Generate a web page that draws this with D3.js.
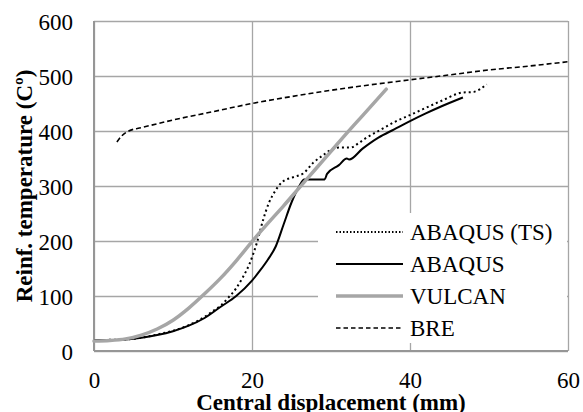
<!DOCTYPE html>
<html>
<head>
<meta charset="utf-8">
<script src="https://cdn.jsdelivr.net/npm/d3@7"></script>
<style>
html,body{margin:0;padding:0;background:#fff;}
svg{display:block;}
svg text{font-family:"Liberation Serif","Times New Roman",Times,serif;fill:#000;}
</style>
</head>
<body>
<svg id="chart" width="583" height="412"></svg>
<script>
// ---- data ----
const xTicks = [0, 20, 40, 60];
const yTicks = [0, 100, 200, 300, 400, 500, 600];
const seriesNames = ["ABAQUS (TS)", "ABAQUS", "VULCAN", "BRE"];

const abaqusTS = [[0,20],[4,21],[8,30],[12,47],[14,62],[15,72],[16,82],[17,97],[18,114],[18.8,133],[19.7,159],[20.6,196],[21.4,238],[22.1,268],[22.9,290],[23.8,307],[25.2,316],[26.5,323],[27.8,343],[29,356],[30,366],[31,370],[32.5,370],[33.5,378],[34.3,386],[36,400],[38,416],[40,429],[42,442],[44,455],[46.7,470],[48,471],[49.7,485]];
const abaqus = [[0,20],[2,20],[4,21],[6,24],[8,29],[10,36],[12,46],[14,60],[16,80],[18,100],[20,128],[21,146],[22,166],[23,190],[24,230],[25,270],[26,300],[26.6,312],[29.2,312],[29.5,322],[31,338],[32,350],[32.3,348],[34,368],[36,388],[38,403],[40,418],[42,432],[44,445],[46.7,461]];
const vulcan = [[0,18],[2,19],[4,22],[6,29],[8,40],[10,56],[12,78],[14,104],[16,132],[18,164],[20,199],[22,232],[24,264],[26,297],[28,330],[30,363],[32,396],[34,428],[37,476]];
const bre = [[2.9,380],[3.5,391],[4.4,400],[6,406],[10,420],[15,435],[20,450],[26,465],[30,474],[35,484],[40,493],[45,502],[50,511],[55,518],[60,526]];

// ---- layout ----
const svg = d3.select("#chart");
const m = {left: 94, right: 568, top: 21, bottom: 351};
const x = d3.scaleLinear().domain([0, 60]).range([m.left, m.right]);
const y = d3.scaleLinear().domain([0, 600]).range([m.bottom, m.top]);
const gridCol = "#a6a6a6";
const FS = 23;
const FONT = "'Liberation Serif', 'Times New Roman', Times, serif";

// gridlines
const gx = svg.append("g")
  .attr("transform", `translate(0,${m.bottom})`)
  .call(d3.axisBottom(x).tickValues(xTicks).tickSize(-(m.bottom - m.top)).tickFormat(""));
gx.select(".domain").remove();
gx.selectAll("line").attr("stroke", gridCol).attr("stroke-width", 1.3);

const gy = svg.append("g")
  .attr("transform", `translate(${m.left},0)`)
  .call(d3.axisLeft(y).tickValues(yTicks).tickSize(-(m.right - m.left)).tickFormat(""));
gy.select(".domain").remove();
gy.selectAll("line").attr("stroke", gridCol).attr("stroke-width", 1.3);

// axis lines
svg.append("line").attr("x1", m.left).attr("x2", m.left).attr("y1", m.top).attr("y2", m.bottom)
  .attr("stroke", "#969696").attr("stroke-width", 2);
svg.append("line").attr("x1", m.left).attr("x2", m.right).attr("y1", m.bottom).attr("y2", m.bottom)
  .attr("stroke", "#969696").attr("stroke-width", 2);

// tick labels
const xl = svg.append("g")
  .attr("transform", `translate(0,${m.bottom})`)
  .call(d3.axisBottom(x).tickValues(xTicks).tickSize(0).tickPadding(0));
xl.attr("font-family", FONT);
xl.select(".domain").remove();
xl.selectAll("text").attr("font-size", FS).attr("font-family", FONT)
  .attr("dy", null).attr("y", 37);

const yl = svg.append("g")
  .attr("transform", `translate(${m.left},0)`)
  .call(d3.axisLeft(y).tickValues(yTicks).tickSize(0).tickPadding(21));
yl.attr("font-family", FONT);
yl.select(".domain").remove();
yl.selectAll("text").attr("font-size", FS).attr("font-family", FONT)
  .attr("dy", "0.35em");

// series
const line = d3.line().x(d => x(d[0])).y(d => y(d[1])).curve(d3.curveMonotoneX);
const styles = [
  {data: abaqusTS, stroke: "#000", width: 2, dash: "2,3", cap: "butt"},
  {data: abaqus, stroke: "#000", width: 2, dash: null, cap: "butt"},
  {data: vulcan, stroke: "#a6a6a6", width: 3.5, dash: null, cap: "round"},
  {data: bre, stroke: "#000", width: 1.6, dash: "5,3", cap: "butt"}
];
svg.append("g").selectAll("path").data(styles).join("path")
  .attr("d", d => line(d.data))
  .attr("fill", "none")
  .attr("stroke", d => d.stroke)
  .attr("stroke-width", d => d.width)
  .attr("stroke-dasharray", d => d.dash)
  .attr("stroke-linecap", d => d.cap);

// legend
svg.append("rect").attr("x", 318).attr("y", 213).attr("width", m.right - 318 - 1).attr("height", 130)
  .attr("fill", "#fff");
const lg = svg.append("g");
const rowY = [232, 264, 296, 328];
const legendDash = ["1.5,2", null, null, "4.5,3"];
styles.forEach((s, i) => {
  lg.append("line").attr("x1", 336).attr("x2", 403).attr("y1", rowY[i]).attr("y2", rowY[i])
    .attr("stroke", s.stroke).attr("stroke-width", s.width)
    .attr("stroke-dasharray", legendDash[i]);
  lg.append("text").attr("x", 410).attr("y", rowY[i]).attr("dy", "0.35em")
    .attr("font-family", FONT).attr("font-size", FS).text(seriesNames[i]);
});

// axis titles
svg.append("text").attr("x", (m.left + m.right) / 2).attr("y", 410)
  .attr("text-anchor", "middle").attr("font-family", FONT).attr("font-size", FS).attr("font-weight", "bold")
  .text("Central displacement (mm)");
svg.append("text").attr("transform", `translate(32,${(m.top + m.bottom) / 2}) rotate(-90)`)
  .attr("text-anchor", "middle").attr("font-family", FONT).attr("font-size", FS).attr("font-weight", "bold")
  .text("Reinf. temperature (Cº)");
</script>
</body>
</html>
